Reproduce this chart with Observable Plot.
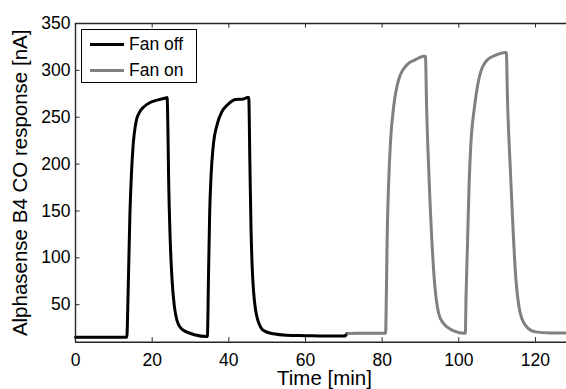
<!DOCTYPE html>
<html>
<head>
<meta charset="utf-8">
<script src="https://cdn.jsdelivr.net/npm/d3@7"></script>
<script src="https://cdn.jsdelivr.net/npm/@observablehq/plot@0.6"></script>
<style>
  html, body { margin: 0; padding: 0; background: #fff; }
  #wrap { position: relative; width: 566px; height: 389px; font-family: "Liberation Sans", Arial, sans-serif; }
  #legend { position: absolute; left: 81px; top: 29px; width: 114px; height: 52px; border: 1px solid #000; background: #fff; }
  .row { position: absolute; left: 0; height: 20px; font-size: 17.5px; color: #000; }
  .sw { position: absolute; left: 8px; width: 34px; height: 3px; }
  .lab { position: absolute; left: 47px; white-space: nowrap; line-height: 20px; }
</style>
</head>
<body>
<div id="wrap"></div>
<script>
// Fan off (black) series: time [min], response [nA]
const offT = [0, 4, 8, 12, 13.4, 13.6, 13.8, 14.2, 14.6, 15.0, 15.9, 16.8, 17.8, 19.6, 21.5, 23.5, 23.9, 24.1, 24.3, 24.7, 25.2, 25.8, 26.5, 27.5, 29.1, 31.0, 34.2, 34.4, 34.7, 35.0, 35.4, 35.9, 37.0, 38.2, 39.6, 41.7, 43.9, 44.8, 45.2, 45.5, 45.8, 46.1, 46.5, 47.0, 47.6, 48.3, 49.5, 51.7, 55, 60, 65, 70.3, 70.6, 70.9];
const offV = [15.3, 15.3, 15.3, 15.3, 15.3, 40, 76, 147, 190, 218, 247, 256, 261, 266, 268.5, 270.5, 271, 240, 183, 120, 76, 48, 33, 25, 20.7, 18, 16, 16, 80, 147, 190, 218, 243, 256, 263, 269, 269.5, 271, 271, 200, 130, 90, 62, 44, 33, 26, 21.5, 19, 17.5, 17, 16.5, 16.5, 18, 19.5];
// Fan on (gray) series
const onT = [71, 75, 80.7, 80.9, 81.1, 81.3, 81.7, 82.2, 83.0, 84.3, 86.5, 88.5, 90.9, 91.3, 91.6, 92.2, 93.5, 94.8, 96.0, 97.0, 99.0, 101.3, 101.5, 101.7, 101.9, 102.3, 102.7, 103.2, 104.1, 105.2, 107.4, 109.5, 112.2, 112.4, 112.7, 113.5, 114.8, 116.1, 117.8, 120, 124, 128.1];
const onV = [19.3, 19.5, 19.6, 19.6, 60, 119, 180, 225, 261, 290, 306, 311, 315, 315, 261, 190, 83, 40, 30, 26, 21.5, 19.6, 19.6, 19.6, 60, 119, 180, 225, 261, 290, 311, 316, 319, 319, 270, 190, 83, 40, 26, 21, 19.8, 19.7];

const seriesNames = ["Fan off", "Fan on"];
const seriesColors = ["#000000", "#808080"];
const xTicks = [0, 20, 40, 60, 80, 100, 120];
const yTicks = [50, 100, 150, 200, 250, 300, 350];
const xDomain = [0, 128.1];
const yDomain = [10, 350];
const xLabel = "Time [min]";
const yLabel = "Alphasense B4 CO response [nA]";

const offData = offT.map((t, i) => ({t, v: offV[i]}));
const onData = onT.map((t, i) => ({t, v: onV[i]}));

const W = 566, H = 389, mL = 75, mR = 0, mT = 23, mB = 47.3;
const plotH = H - mT - mB, plotW = W - mL - mR;
const axisColor = "#262626";

const chart = Plot.plot({
  width: W, height: H,
  marginLeft: mL, marginRight: mR, marginTop: mT, marginBottom: mB,
  style: {fontFamily: "'Liberation Sans', Arial, sans-serif", fontSize: "17.5px", color: "#000", background: "#fff"},
  x: {domain: xDomain, label: null},
  y: {domain: yDomain, label: null},
  marks: [
    Plot.line(offData, {x: "t", y: "v", stroke: seriesColors[0], strokeWidth: 3, curve: "monotone-x", strokeLinejoin: "round"}),
    Plot.line(onData, {x: "t", y: "v", stroke: seriesColors[1], strokeWidth: 3, curve: "monotone-x", strokeLinejoin: "round"}),
    // box lines
    Plot.ruleY([yDomain[1]], {stroke: axisColor, strokeWidth: 1.3}),
    Plot.ruleY([yDomain[0]], {stroke: axisColor, strokeWidth: 1.6}),
    Plot.ruleX([xDomain[0]], {stroke: axisColor, strokeWidth: 1.4}),
    // inward ticks
    Plot.tickX(xTicks, {x: d => d, stroke: axisColor, insetTop: plotH - 4.5}),
    Plot.tickX(xTicks, {x: d => d, stroke: axisColor, insetBottom: plotH - 4.5}),
    Plot.tickY(yTicks, {y: d => d, stroke: axisColor, insetRight: plotW - 4.5}),
    Plot.axisX(xTicks, {tickSize: 0, tickPadding: 11, fontSize: 17.5, label: null}),
    Plot.axisY(yTicks, {tickSize: 0, tickPadding: 5, fontSize: 17.5, label: null}),
    Plot.text([xLabel], {frameAnchor: "bottom", textAnchor: "middle", lineAnchor: "top", dy: 28.5, dx: 3.5, fontSize: 20.5, fill: "#000"}),
    Plot.text([yLabel], {frameAnchor: "left", textAnchor: "middle", rotate: -90, lineAnchor: "top", dx: -63.5, fontSize: 20.5, fill: "#000"})
  ]
});

const wrap = document.getElementById("wrap");
wrap.appendChild(chart);

const legend = document.createElement("div");
legend.id = "legend";
seriesNames.forEach((name, i) => {
  const row = document.createElement("div");
  row.className = "row";
  row.style.top = (i === 0 ? 3.5 : 29.5) + "px";
  const sw = document.createElement("div");
  sw.className = "sw";
  sw.style.background = seriesColors[i];
  sw.style.top = "9px";
  const lab = document.createElement("div");
  lab.className = "lab";
  lab.textContent = name;
  row.appendChild(sw);
  row.appendChild(lab);
  legend.appendChild(row);
});
wrap.appendChild(legend);
</script>
</body>
</html>
